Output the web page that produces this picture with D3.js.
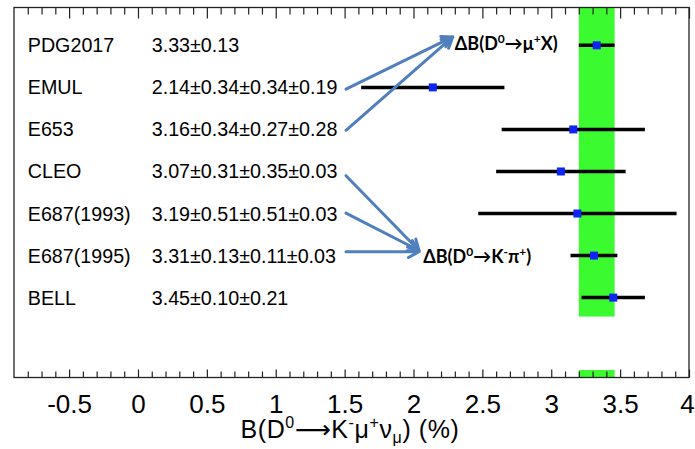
<!DOCTYPE html>
<html>
<head>
<meta charset="utf-8">
<script src="https://cdn.jsdelivr.net/npm/d3@7"></script>
<style>
body { margin: 0; background: #fff; }
text { font-family: "Liberation Sans", Arial, sans-serif; }
</style>
</head>
<body>
<div id="chart"></div>
<script>
// measurements, top to bottom
var names = ["PDG2017", "EMUL", "E653", "CLEO", "E687(1993)", "E687(1995)", "BELL"];
var valueLabels = ["3.33\u00b10.13", "2.14\u00b10.34\u00b10.34\u00b10.19", "3.16\u00b10.34\u00b10.27\u00b10.28",
	"3.07\u00b10.31\u00b10.35\u00b10.03", "3.19\u00b10.51\u00b10.51\u00b10.03", "3.31\u00b10.13\u00b10.11\u00b10.03",
	"3.45\u00b10.10\u00b10.21"];
var centers = [3.33, 2.14, 3.16, 3.07, 3.19, 3.31, 3.45];
var totalErr = [0.13, 0.52, 0.52, 0.47, 0.72, 0.17, 0.23];
var majorTicks = [-0.5, 0, 0.5, 1, 1.5, 2, 2.5, 3, 3.5, 4];
var tickLabels = ["-0.5", "0", "0.5", "1", "1.5", "2", "2.5", "3", "3.5", "4"];
var pdgBand = [3.20, 3.46];

var W = 695, H = 449;
// frame edges (note: "top" is a reserved window property)
var fLeft = 14, fRight = 689, fTop = 7.5, fBottom = 377.5;

var x = d3.scaleLinear().domain([-0.9, 4]).range([fLeft, fRight]);
var y = d3.scaleLinear().domain([-0.9, 7.9]).range([fTop, fBottom]);

var svg = d3.select("#chart").append("svg")
	.attr("width", W)
	.attr("height", H);

// PDG band
svg.append("rect")
	.attr("x", x(pdgBand[0]))
	.attr("y", fTop)
	.attr("width", x(pdgBand[1]) - x(pdgBand[0]))
	.attr("height", y(6.45) - fTop)
	.attr("fill", "#3bfa2f");
svg.append("rect")
	.attr("x", x(pdgBand[0]))
	.attr("y", fBottom - 7.5)
	.attr("width", x(pdgBand[1]) - x(pdgBand[0]))
	.attr("height", 7.5)
	.attr("fill", "#3bfa2f");

// error bars
svg.selectAll("line.err")
	.data(centers)
	.enter()
	.append("line")
	.attr("class", "err")
	.attr("x1", function(d, i) { return x(d - totalErr[i]); })
	.attr("x2", function(d, i) { return x(d + totalErr[i]); })
	.attr("y1", function(d, i) { return y(i); })
	.attr("y2", function(d, i) { return y(i); })
	.attr("stroke", "#000")
	.attr("stroke-width", 3.5);

svg.selectAll("rect.pt")
	.data(centers)
	.enter()
	.append("rect")
	.attr("class", "pt")
	.attr("x", function(d) { return x(d) - 4; })
	.attr("y", function(d, i) { return y(i) - 4; })
	.attr("width", 8)
	.attr("height", 8)
	.attr("fill", "#0f25f5");

// frame
svg.append("rect")
	.attr("x", fLeft)
	.attr("y", fTop)
	.attr("width", fRight - fLeft)
	.attr("height", fBottom - fTop)
	.attr("fill", "none")
	.attr("stroke", "#222")
	.attr("stroke-width", 1.3);

// ticks (pointing inward)
var minorTicks = d3.range(-8, 41).map(function(v) { return v / 10; })
	.filter(function(v) { return Math.abs(v * 2 - Math.round(v * 2)) > 1e-6; });

function tickAxis(axis, vals, size, ypos) {
	var g = svg.append("g")
		.attr("transform", "translate(0," + ypos + ")")
		.call(axis(x).tickValues(vals).tickSize(size).tickFormat(""));
	g.select(".domain").remove();
	g.selectAll("line").attr("stroke", "#222").attr("stroke-width", 1.2);
	return g;
}
tickAxis(d3.axisBottom, majorTicks, 11, fTop);
tickAxis(d3.axisBottom, minorTicks, 7, fTop);
tickAxis(d3.axisTop, majorTicks, 8, fBottom);
tickAxis(d3.axisTop, minorTicks, 6, fBottom);

// tick labels
var lab = svg.append("g")
	.attr("transform", "translate(0," + fBottom + ")")
	.call(d3.axisBottom(x).tickValues(majorTicks).tickSize(0)
		.tickFormat(function(d, i) { return tickLabels[i]; }));
lab.select(".domain").remove();
lab.selectAll("text")
	.attr("y", 35.5)
	.attr("dy", 0)
	.attr("x", function(d, i) { return i === majorTicks.length - 1 ? -2 : 0; })
	.attr("fill", "#000")
	.style("font-size", "26px")
	.style("font-family", "'Liberation Sans', Arial, sans-serif");

// axis title
var title = svg.append("text")
	.attr("x", 350)
	.attr("y", 438)
	.attr("text-anchor", "middle")
	.style("font-size", "25px")
	.style("letter-spacing", "0.6px");
title.append("tspan").text("B(D");
title.append("tspan").attr("dy", -10).style("font-size", "16px").text("0");
title.append("tspan").attr("dy", 10).style("font-family", "'DejaVu Sans', sans-serif").text("\u27f6");
title.append("tspan").text("K");
title.append("tspan").attr("dy", -10).style("font-size", "16px").text("-");
title.append("tspan").attr("dy", 10).text("\u03bc");
title.append("tspan").attr("dy", -10).style("font-size", "16px").text("+");
title.append("tspan").attr("dy", 10).text("\u03bd");
title.append("tspan").attr("dy", 5).style("font-size", "16px").text("\u03bc");
title.append("tspan").attr("dy", -5).text(")  (%)");

// row labels
svg.selectAll("text.name")
	.data(names)
	.enter()
	.append("text")
	.attr("class", "name")
	.attr("x", x(-0.8))
	.attr("y", function(d, i) { return y(i) + 7; })
	.style("font-size", "19.7px")
	.text(function(d) { return d; });

svg.selectAll("text.val")
	.data(valueLabels)
	.enter()
	.append("text")
	.attr("class", "val")
	.attr("x", x(0.1))
	.attr("y", function(d, i) { return y(i) + 7; })
	.style("font-size", "19.7px")
	.text(function(d) { return d; });

// annotations
function note(xv, row, parts) {
	var t = svg.append("text")
		.attr("x", x(xv))
		.attr("y", y(row))
		.style("font-family", "Lato, 'DejaVu Sans', sans-serif")
		.style("font-weight", "bold")
		.style("font-size", "18px");
	parts.forEach(function(p) {
		var s = t.append("tspan").text(p[0]);
		if (p[1] === "sup") s.attr("dy", -7).style("font-size", "12px");
		if (p[1] === "back") s.attr("dy", 7);
	});
}
note(2.30, 0.1, [["\u0394B(D"], ["0", "sup"], ["\u2192\u03bc", "back"], ["+", "sup"], ["X)", "back"]]);
note(2.07, 5.18, [["\u0394B(D"], ["0", "sup"], ["\u2192K", "back"], ["-", "sup"], ["\u03c0", "back"], ["+", "sup"], [")", "back"]]);

function arrow(x0, r0, x1, r1) {
	var ax = x(x0), ay = y(r0), bx = x(x1), by = y(r1);
	var ang = Math.atan2(by - ay, bx - ax);
	var len = 12, spread = 0.5;
	var p = "M" + ax + "," + ay + "L" + bx + "," + by +
		"M" + (bx - len * Math.cos(ang - spread)) + "," + (by - len * Math.sin(ang - spread)) +
		"L" + bx + "," + by +
		"L" + (bx - len * Math.cos(ang + spread)) + "," + (by - len * Math.sin(ang + spread));
	svg.append("path")
		.attr("d", p)
		.attr("fill", "none")
		.attr("stroke", "#4f7fbc")
		.attr("stroke-width", 3)
		.attr("stroke-linecap", "round")
		.attr("stroke-linejoin", "round");
}
arrow(1.51, 1.04, 2.285, -0.2);
arrow(1.51, 2.02, 2.285, -0.2);
arrow(1.51, 3.1, 2.04, 4.88);
arrow(1.51, 3.99, 2.04, 4.88);
arrow(1.51, 4.91, 2.04, 4.91);
</script>
</body>
</html>
